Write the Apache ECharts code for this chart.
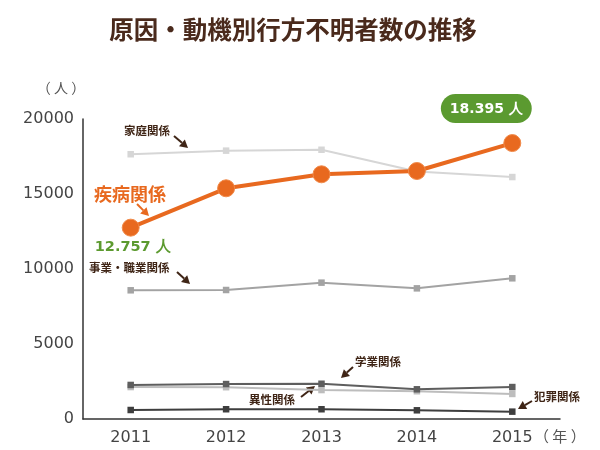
<!DOCTYPE html>
<html><head><meta charset="utf-8">
<script src="https://cdn.jsdelivr.net/npm/echarts@6/dist/echarts.min.js"></script>
<style>html,body{margin:0;padding:0;background:#fff}#c{width:600px;height:450px}</style>
</head><body><div id="c"></div>
<script>
var years = ['2011','2012','2013','2014','2015'];
var yTicks = [0, 5000, 10000, 15000, 20000];
var shippei = [12757, 15380, 16313, 16533, 18395];   // 疾病関係
var katei   = [17650, 17890, 17950, 16500, 16130];   // 家庭関係
var jigyou  = [8580, 8600, 9090, 8710, 9380];        // 事業・職業関係
var gakugyou= [2270, 2330, 2350, 1980, 2130];        // 学業関係
var isei    = [2130, 2120, 1930, 1850, 1670];        // 異性関係
var hanzai  = [600, 650, 650, 580, 490];             // 犯罪関係

var chart = echarts.init(document.getElementById('c'), null, {renderer:'canvas'});
var JP = '"Noto Sans CJK JP", sans-serif';
var NUM = '"DejaVu Sans", sans-serif';
var BROWN = '#3f2516';

function grayLine(name, data, color, z){
  return {name:name, type:'line', data:data, symbol:'rect', symbolSize:6.5, z:z,
    lineStyle:{color:color, width:2}, itemStyle:{color:color}, silent:true, animation:false};
}

function arrow(x1,y1,x2,y2,color,w){
  var a = Math.atan2(y2-y1, x2-x1), L = 8, W = 4.5;
  var bx = x2 - L*Math.cos(a), by = y2 - L*Math.sin(a);
  var px = -Math.sin(a), py = Math.cos(a);
  return [
    {type:'line', shape:{x1:x1,y1:y1,x2:bx,y2:by}, style:{stroke:color, lineWidth:w||2}},
    {type:'polygon', shape:{points:[[x2,y2],[bx+px*W,by+py*W],[bx-px*W,by-py*W]]}, style:{fill:color}}
  ];
}
function txt(x,y,t,size,color,align,weight){
  return {type:'text', x:x, y:y, style:{text:t, fontSize:size, fill:color, fontFamily:JP,
    fontWeight:weight||'bold', align:align||'left', verticalAlign:'middle'}};
}

var g = [];
g.push(txt(293, 30, '原因・動機別行方不明者数の推移', 24.5, '#4a2a1c', 'center', 'bold'));
g.push(txt(61, 88, '（ 人 ）', 14, '#555', 'center', 'normal'));
g.push(txt(534, 436, '（ 年 ）', 15, '#555', 'left', 'normal'));
g.push(txt(124, 131, '家庭関係', 11.5, BROWN));
g = g.concat(arrow(174,136,188,148,BROWN,2));
g.push(txt(94, 194, '疾病関係', 18, '#e8691f'));
g = g.concat(arrow(137,204,149,216,'#e8691f',2));
g.push(txt(89, 268, '事業・職業関係', 11.5, BROWN));
g = g.concat(arrow(177,272,190,284,BROWN,2));
g.push(txt(355, 362, '学業関係', 11.5, BROWN));
g = g.concat(arrow(353,367,341,378,BROWN,2));
g.push(txt(249, 400, '異性関係', 11.5, BROWN));
g = g.concat(arrow(301,397,315,386,BROWN,2));
g.push(txt(534, 397, '犯罪関係', 11.5, BROWN));
g = g.concat(arrow(532,401,518,409,BROWN,2));

chart.setOption({
  animation:false,
  grid:{left:83, right:40, top:119, bottom:31, containLabel:false},
  xAxis:{type:'category', data:years, boundaryGap:true,
    axisLine:{lineStyle:{color:'#333', width:1.5}}, axisTick:{show:false},
    axisLabel:{fontSize:16, color:'#444', fontFamily:NUM, margin:11}},
  yAxis:{type:'value', min:yTicks[0], max:yTicks[yTicks.length-1], interval:5000,
    splitLine:{show:false}, axisTick:{show:false},
    axisLine:{show:true, lineStyle:{color:'#333', width:1.5}},
    axisLabel:{fontSize:16, color:'#444', fontFamily:NUM, margin:9,
      formatter:function(v){ return String(v); }}},
  series:[
    grayLine('家庭関係', katei, '#d6d6d6', 2),
    grayLine('事業・職業関係', jigyou, '#a3a3a3', 2),
    grayLine('異性関係', isei, '#bdbdbd', 2),
    grayLine('学業関係', gakugyou, '#5e5e5e', 3),
    grayLine('犯罪関係', hanzai, '#3e3e3e', 3),
    {name:'疾病関係', type:'line', data:shippei.map(function(v,i){
        var o = {value:v};
        if(i===0) o.label = {show:true, position:'bottom', distance:3, formatter:'12.757 人',
          color:'#5c9a2f', fontSize:14.5, fontWeight:'bold', fontFamily:NUM, offset:[2,0]};
        if(i===shippei.length-1) o.label = {show:true, position:'top', distance:11, formatter:'18.395 人',
          color:'#fff', fontSize:14, fontWeight:'bold', fontFamily:NUM,
          backgroundColor:'#5b9a30', borderRadius:16, padding:[8,9,7,9], offset:[-26,0]};
        return o;
      }),
      symbol:'circle', symbolSize:17, z:5,
      lineStyle:{color:'#e8691f', width:4}, itemStyle:{color:'#e8691f', borderColor:'#f08a4a', borderWidth:1}}
  ],
  graphic:g
});
</script></body></html>
